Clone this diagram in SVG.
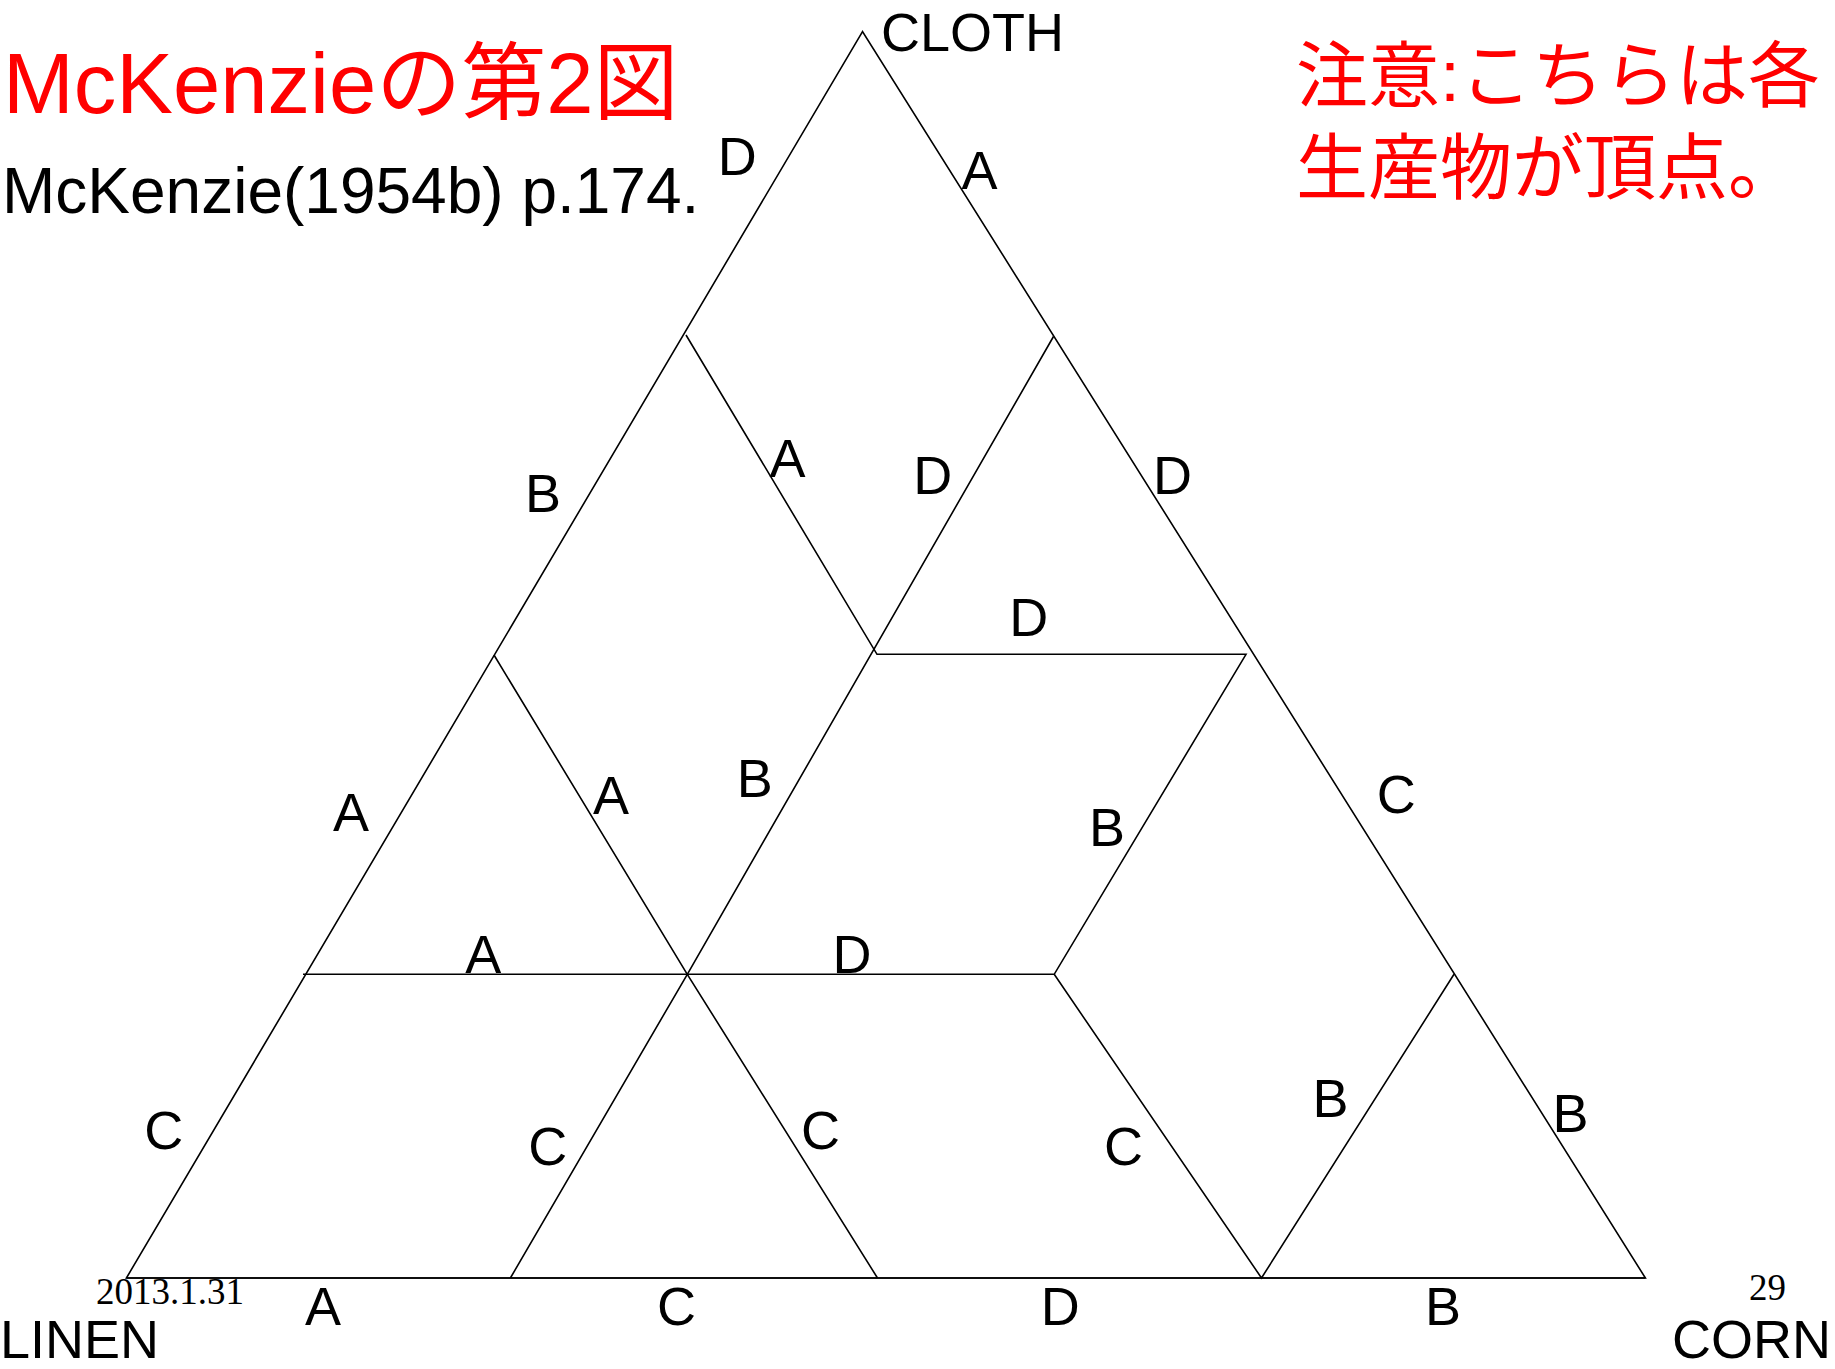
<svg xmlns="http://www.w3.org/2000/svg" width="1835" height="1369" viewBox="0 0 1835 1369">
<style>
.ln{fill:none;stroke:#000;stroke-width:1.6;stroke-linejoin:miter}
.lb{font-family:"Liberation Sans",Arial,sans-serif;font-size:54px;fill:#000;text-anchor:middle}
.vx{font-family:"Liberation Sans",Arial,sans-serif;font-size:54px;fill:#000}
.ft{font-family:"Liberation Serif","Times New Roman",serif;font-size:37px;fill:#000}
.red{font-family:"Liberation Sans","Noto Sans CJK JP",sans-serif;fill:#ff0000}
</style>
<rect width="1835" height="1369" fill="#fff"/>
<g id="title">
<text class="red" x="3" y="113" font-size="85">McKenzieの第2図</text>
<text x="2" y="213" font-family="'Liberation Sans',Arial,sans-serif" font-size="64" fill="#000">McKenzie(1954b) p.174.</text>
</g>
<g id="note">
<text class="red" x="1296" y="101" font-size="72" font-family="'Noto Sans CJK JP',sans-serif">注意:こちらは各</text>
<text class="red" x="1296" y="193" font-size="72" font-family="'Noto Sans CJK JP',sans-serif">生産物が頂点。</text>
</g>
<g id="connectors">
<polygon class="ln" points="862.5,31.6 126.4,1278 1645.4,1278"/>
<line class="ln" x1="126.4" y1="1278" x2="1645.4" y2="1278" stroke-width="2.2"/>
<polyline class="ln" points="686,335 877,654.3 1246,654.3 1054.2,974.3 303,974.3"/>
<polyline class="ln" points="1053.5,336.5 687.3,974.3 510.4,1278"/>
<polyline class="ln" points="494,655 687.3,974.3 877.5,1278"/>
<polyline class="ln" points="1054.2,974.3 1261.5,1278 1454,974.3"/>
</g>
<g id="vertices">
<text class="vx" x="881" y="51">CLOTH</text>
<text class="vx" x="0" y="1358">LINEN</text>
<text class="vx" x="1672" y="1358">CORN</text>
</g>
<g id="labels">
<text class="lb" x="737.3" y="175.2">D</text>
<text class="lb" x="979.5" y="189.2">A</text>
<text class="lb" x="543" y="512.2">B</text>
<text class="lb" x="787.6" y="477.1">A</text>
<text class="lb" x="932.7" y="493.5">D</text>
<text class="lb" x="1172.6" y="493.5">D</text>
<text class="lb" x="1028.7" y="636.3">D</text>
<text class="lb" x="351.1" y="830.5">A</text>
<text class="lb" x="610.9" y="814.1">A</text>
<text class="lb" x="754.8" y="796.6">B</text>
<text class="lb" x="1107.1" y="845.7">B</text>
<text class="lb" x="1396.2" y="813">C</text>
<text class="lb" x="483.3" y="973.3">A</text>
<text class="lb" x="852" y="973.3">D</text>
<text class="lb" x="163.8" y="1148.8">C</text>
<text class="lb" x="547.7" y="1165.2">C</text>
<text class="lb" x="820.4" y="1148.8">C</text>
<text class="lb" x="1123.5" y="1165.2">C</text>
<text class="lb" x="1330.6" y="1117.2">B</text>
<text class="lb" x="1570.5" y="1132.4">B</text>
<text class="lb" x="323" y="1324.5">A</text>
<text class="lb" x="676.4" y="1324.5">C</text>
<text class="lb" x="1060.3" y="1324.5">D</text>
<text class="lb" x="1443" y="1324.5">B</text>
</g>
<g id="footer">
<text class="ft" x="96" y="1304">2013.1.31</text>
<text class="ft" x="1749" y="1300">29</text>
</g>
</svg>
